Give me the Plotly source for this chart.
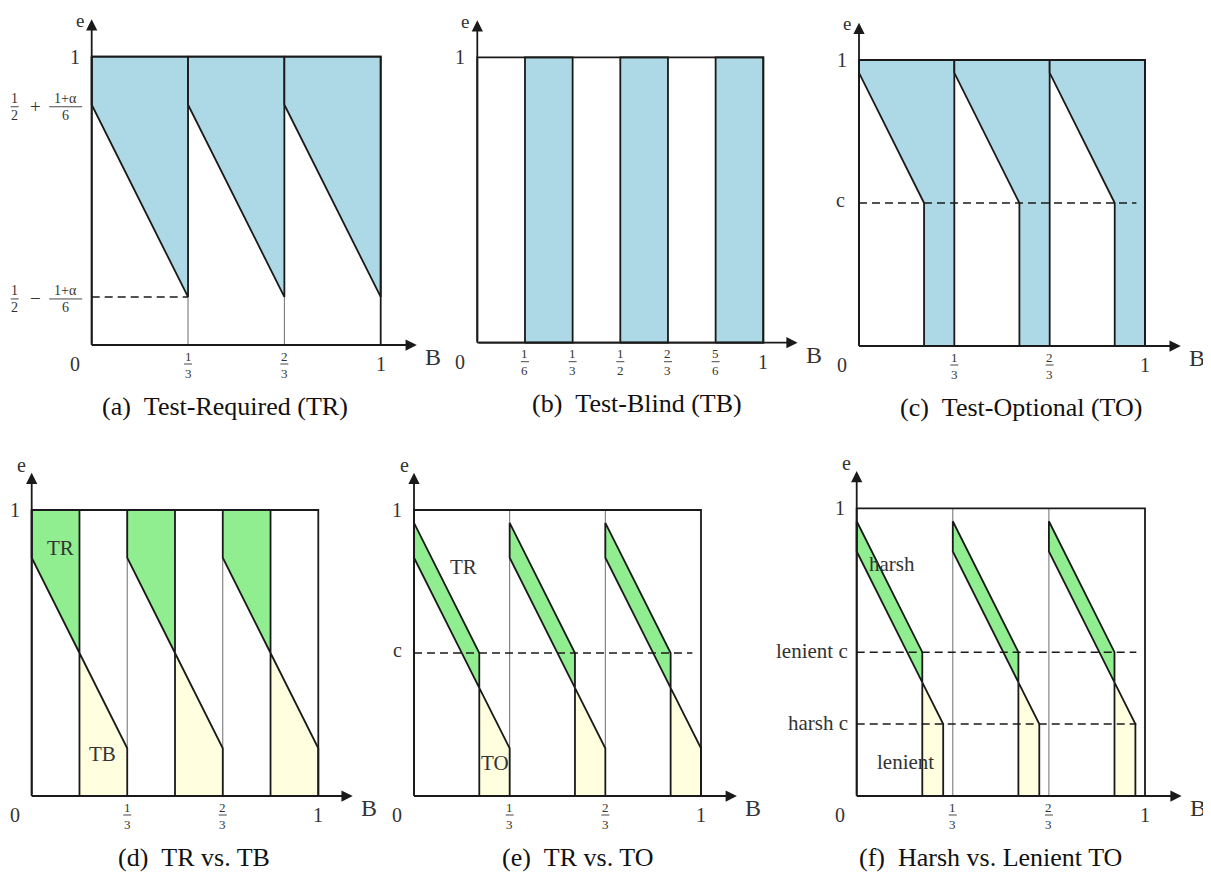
import plotly.graph_objects as go

# page is rendered with an 8px body margin, so the figure is offset by OFF
OFF = 8
W, H = 1203, 864

# ---------------- data ----------------
ALPHA = 1.0
TR_HIGH = 0.5 + (1 + ALPHA) / 6          # TR threshold at start of each period
TR_LOW = 0.5 - (1 + ALPHA) / 6           # TR threshold at end of each period
PERIOD_STARTS = [0.0, 1 / 3, 2 / 3]
PERIOD_LEN = 1 / 3
TB_SWITCH = 1 / 6                        # offset inside a period where TB admits
TB_BAND_STARTS = [1 / 6, 1 / 2, 5 / 6]
TB_BAND_ENDS = [1 / 3, 2 / 3, 1.0]
TO_TOP = 0.955                           # TO threshold at start of each period
TO_C = 0.5                               # c
F_UPPER_TOP = 0.955                      # harsh TO threshold start
F_LOWER_TOP = 0.85                       # lenient TO threshold start
LENIENT_C = 0.5
HARSH_C = 0.25
DASH_END = 0.97

THIRD_TICKS = [1 / 3, 2 / 3]
THIRD_NUMS = ["1", "2"]
THIRD_DENS = ["3", "3"]
SIXTH_TICKS = [1 / 6, 1 / 3, 1 / 2, 2 / 3, 5 / 6]
SIXTH_NUMS = ["1", "1", "1", "2", "5"]
SIXTH_DENS = ["6", "3", "2", "3", "6"]

CAPTIONS = ["(a)\u2002Test-Required (TR)", "(b)\u2002Test-Blind (TB)",
            "(c)\u2002Test-Optional (TO)", "(d)\u2002TR vs. TB",
            "(e)\u2002TR vs. TO", "(f)\u2002Harsh vs. Lenient TO"]

# ---------------- styling / layout ----------------
BLUE = "#ADD8E6"
GREEN = "#90EE90"
YELLOW = "#FFFFE0"
BLACK = "#1a1a1a"
GRAY = "#6e6e6e"
LW = 1.8
FONT = "Liberation Serif, DejaVu Serif, serif"

# pixel box of the unit square in page px (left, right, top, bottom) and subplot domain in page px
PANELS = [
    dict(box=(91.7, 380.7, 56.7, 345.0), dom=(0, 440, 0, 430), xtip=1.125, capx=0.461),
    dict(box=(477.3, 763.3, 57.3, 342.7), dom=(440, 830, 0, 430), xtip=1.12, capx=0.56),
    dict(box=(859.0, 1145.0, 60.0, 346.0), dom=(830, 1211, 0, 430), xtip=1.125, capx=0.566),
    dict(box=(31.7, 318.3, 510.0, 796.0), dom=(0, 380, 440, 880), xtip=1.12, capx=0.566),
    dict(box=(414.0, 701.0, 510.0, 796.0), dom=(380, 765, 440, 880), xtip=1.125, capx=0.57),
    dict(box=(856.7, 1145.0, 508.3, 796.0), dom=(765, 1211, 440, 880), xtip=1.127, capx=0.464),
]
YTIP = 1.13

fig = go.Figure()
annotations = []
shapes = []
layout = {}


def refs(i):
    return ("x" if i == 0 else f"x{i+1}"), ("y" if i == 0 else f"y{i+1}")


for i, p in enumerate(PANELS):
    L, R, T, Bm = [v - OFF for v in p["box"]]
    d0, d1, t0, t1 = [v - OFF for v in p["dom"]]
    d0, d1 = max(d0, 0), min(d1, W)
    t0, t1 = max(t0, 0), min(t1, H)
    ux, uy = R - L, Bm - T
    key = "" if i == 0 else str(i + 1)
    xa, ya = refs(i)
    layout[f"xaxis{key}"] = dict(domain=[d0 / W, d1 / W], range=[(d0 - L) / ux, (d1 - L) / ux],
                                 visible=False, fixedrange=True, anchor=ya)
    layout[f"yaxis{key}"] = dict(domain=[1 - t1 / H, 1 - t0 / H], range=[(Bm - t1) / uy, (Bm - t0) / uy],
                                 visible=False, fixedrange=True, anchor=xa)


def line(i, xs, ys, color=BLACK, width=LW, dash=None):
    xa, ya = refs(i)
    fig.add_trace(go.Scatter(x=xs, y=ys, mode="lines", xaxis=xa, yaxis=ya,
                             line=dict(color=color, width=width, dash=dash),
                             hoverinfo="skip", showlegend=False))


def poly(i, xs, ys, fill):
    xa, ya = refs(i)
    fig.add_trace(go.Scatter(x=list(xs) + [xs[0]], y=list(ys) + [ys[0]], mode="lines",
                             fill="toself", fillcolor=fill, xaxis=xa, yaxis=ya,
                             line=dict(color=BLACK, width=LW),
                             hoverinfo="skip", showlegend=False))


def text(i, x, y, s, size=20, dx=0, dy=0, color="#222", xanchor="center"):
    xa, ya = refs(i)
    annotations.append(dict(x=x, y=y, xref=xa, yref=ya, text=s, showarrow=False,
                            xshift=dx, yshift=dy, xanchor=xanchor, yanchor="middle",
                            font=dict(family=FONT, size=size, color=color)))


def frac(i, x, y, num, den, dx=0, dy=0, size=13, barw=8, color="#333"):
    xa, ya = refs(i)
    text(i, x, y, num, size=size, dx=dx, dy=dy + 8, color=color)
    text(i, x, y, den, size=size, dx=dx, dy=dy - 9, color=color)
    shapes.append(dict(type="line", xref=xa, yref=ya, xsizemode="pixel", ysizemode="pixel",
                       xanchor=x, yanchor=y, x0=dx - barw / 2, x1=dx + barw / 2, y0=dy, y1=dy,
                       line=dict(color=color, width=0.9)))


def thin_verticals(i):
    for t in THIRD_TICKS:
        line(i, [t, t], [0, 1], color=GRAY, width=1)


def frame(i):
    line(i, [0, 1, 1, 0, 0], [0, 0, 1, 1, 0])


slope = (TR_LOW - TR_HIGH) / PERIOD_LEN

# ---- (a) Test-Required ----
thin_verticals(0)
for s in PERIOD_STARTS:
    poly(0, [s, s, s + PERIOD_LEN, s + PERIOD_LEN], [1, TR_HIGH, TR_LOW, 1], BLUE)
line(0, [0, PERIOD_LEN], [TR_LOW, TR_LOW], dash="8px,5px", width=1.5)

# ---- (b) Test-Blind ----
for a, b in zip(TB_BAND_STARTS, TB_BAND_ENDS):
    poly(1, [a, b, b, a], [0, 0, 1, 1], BLUE)

# ---- (c) Test-Optional ----
cut_c = (TO_C - TO_TOP) / slope
for s in PERIOD_STARTS:
    e = s + PERIOD_LEN
    poly(2, [s, s, s + cut_c, s + cut_c, e, e], [1, TO_TOP, TO_C, 0, 0, 1], BLUE)
line(2, [0, DASH_END], [TO_C, TO_C], dash="8px,5px", width=1.5)

# ---- (d) TR vs TB ----
thin_verticals(3)
for s in PERIOD_STARTS:
    m = s + TB_SWITCH
    e = s + PERIOD_LEN
    mid = TR_HIGH + slope * TB_SWITCH
    poly(3, [s, s, m, m], [1, TR_HIGH, mid, 1], GREEN)
    poly(3, [m, e, e, m], [mid, TR_LOW, 0, 0], YELLOW)

# ---- (e) TR vs TO ----
thin_verticals(4)
for s in PERIOD_STARTS:
    e = s + PERIOD_LEN
    m = s + cut_c
    low = TR_HIGH + slope * cut_c
    poly(4, [s, m, m, s], [TO_TOP, TO_C, low, TR_HIGH], GREEN)
    poly(4, [m, e, e, m], [low, TR_LOW, 0, 0], YELLOW)
line(4, [0, DASH_END], [TO_C, TO_C], dash="8px,5px", width=1.5)

# ---- (f) Harsh vs Lenient TO ----
thin_verticals(5)
cut_u = (LENIENT_C - F_UPPER_TOP) / slope
cut_l = (HARSH_C - F_LOWER_TOP) / slope
for s in PERIOD_STARTS:
    m = s + cut_u
    n = s + cut_l
    low = F_LOWER_TOP + slope * cut_u
    poly(5, [s, m, m, s], [F_UPPER_TOP, LENIENT_C, low, F_LOWER_TOP], GREEN)
    poly(5, [m, n, n, m], [low, HARSH_C, 0, 0], YELLOW)
line(5, [0, DASH_END], [LENIENT_C, LENIENT_C], dash="8px,5px", width=1.5)
line(5, [0, DASH_END], [HARSH_C, HARSH_C], dash="8px,5px", width=1.5)

# ---- frames, axes, labels ----
for i, p in enumerate(PANELS):
    frame(i)
    xa, ya = refs(i)
    for (tx, ty) in [(p["xtip"], 0), (0, YTIP)]:
        annotations.append(dict(x=tx, y=ty, ax=0, ay=0, xref=xa, yref=ya, axref=xa, ayref=ya,
                                text="", showarrow=True, arrowhead=2, arrowsize=1.25,
                                arrowwidth=1.8, arrowcolor=BLACK, standoff=0))
    if i < 3:
        text(i, 0, YTIP, "e", size=19, dx=-12, dy=-1, color="#333")
    else:
        text(i, 0, YTIP, "e", size=20, dx=-10, dy=8, color="#333")
    text(i, p["xtip"], 0, "B", size=24, dx=16, dy=-12, color="#333")
    text(i, 0, 0, "0", size=20, dx=-17, dy=-19, color="#333")
    text(i, 1, 0, "1", size=20, dx=0, dy=-19, color="#333")
    text(i, 0, 1, "1", size=20, dx=-17, dy=0, color="#333")
    if i == 1:
        for t, n, d in zip(SIXTH_TICKS, SIXTH_NUMS, SIXTH_DENS):
            frac(i, t, 0, n, d, dy=-19)
    else:
        for t, n, d in zip(THIRD_TICKS, THIRD_NUMS, THIRD_DENS):
            frac(i, t, 0, n, d, dy=-19)
    text(i, p["capx"], 0, CAPTIONS[i], size=26, dy=-61, color="#111")

# y labels of (a)
for yv, sign in [(TR_HIGH, "+"), (TR_LOW, "\u2212")]:
    frac(0, 0, yv, "1", "2", dx=-77, dy=-2, size=14)
    text(0, 0, yv, sign, size=19, dx=-56, dy=-2, color="#333")
    frac(0, 0, yv, "1+\u03b1", "6", dx=-26, dy=-2, barw=33, size=14)

# c labels
text(2, 0, TO_C, "c", size=20, dx=-19, dy=3, color="#333")
text(4, 0, TO_C, "c", size=20, dx=-17, dy=3, color="#333")
text(5, 0, LENIENT_C, "lenient c", size=21, dx=-7, dy=1, color="#333", xanchor="right")
text(5, 0, HARSH_C, "harsh c", size=21, dx=-7, dy=1, color="#333", xanchor="right")

# region labels
text(3, 0.099, 0.867, "TR", size=21, color="#333")
text(3, 0.248, 0.147, "TB", size=21, color="#333")
text(4, 0.172, 0.80, "TR", size=21, color="#333")
text(4, 0.282, 0.116, "TO", size=21, color="#333")
text(5, 0.121, 0.806, "harsh", size=21, color="#333")
text(5, 0.17, 0.117, "lenient", size=21, color="#333")

fig.update_layout(width=W, height=H, margin=dict(l=0, r=0, t=0, b=0),
                  paper_bgcolor="white", plot_bgcolor="rgba(0,0,0,0)",
                  showlegend=False, annotations=annotations, shapes=shapes, **layout)

fig.write_html("out.html")
